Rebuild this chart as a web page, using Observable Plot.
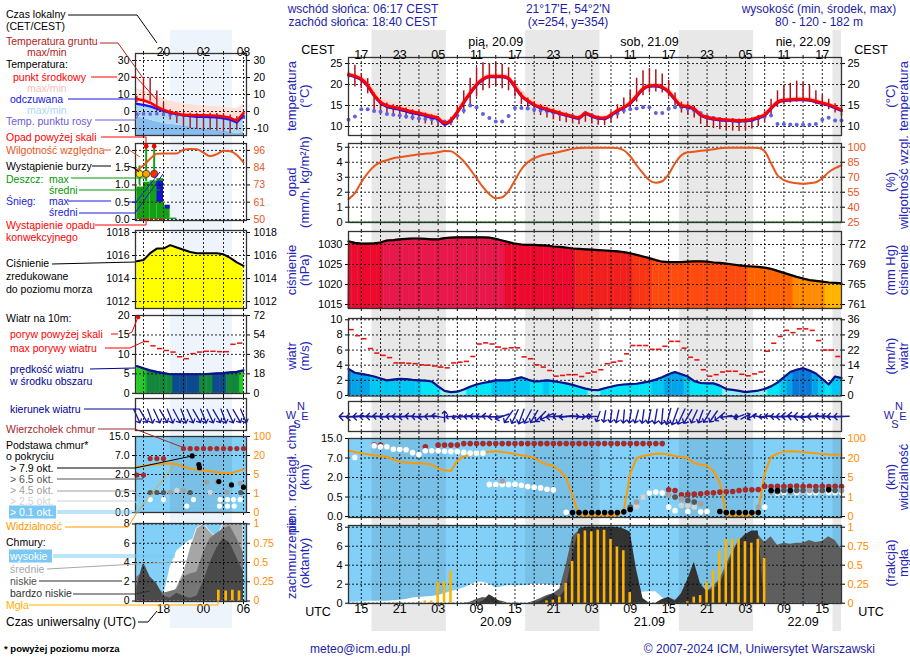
<!DOCTYPE html>
<html><head><meta charset="utf-8">
<script src="https://cdn.jsdelivr.net/npm/d3@7"></script>
<script src="https://cdn.jsdelivr.net/npm/@observablehq/plot@0.6"></script>
<style>
html,body{margin:0;padding:0;background:#fff;}
#root{position:relative;width:910px;height:660px;overflow:hidden;background:#fff;font-family:"Liberation Sans",Arial,sans-serif;}
#root svg{position:absolute;left:0;overflow:visible;}
</style></head><body><div id="root"></div>
<script>
// ================= DATA (main meteogram, hours since 19.09 00 UTC) =================
const hours = d3.range(13, 91);
const gridHours = d3.range(15, 90, 3);
const labelHours = d3.range(15, 90, 6);
const nightStart = [16.67, 40.67, 64.67, 88.67];
const nightEnd = [28.28, 52.28, 76.28, 90];
const dayNoon = [36, 60, 84];
const dayTop = ["pią, 20.09", "sob, 21.09", "nie, 22.09"];
const dayBottom = ["20.09", "21.09", "22.09"];

const temp = [22.4,22.0,21.3,19.8,17.5,15.8,15.0,14.6,14.3,13.9, 13.5,13.2,12.8,12.4,12.0,10.8,11.5,13.5,15.8,18.0,
  20.0,21.3,22.0,22.0,22.0,21.5,19.5,17.4,16.2,15.2, 14.6,14.1,13.7,13.2,12.8,12.4,12.1,13.2,12.6,12.1,
  12.0,12.8,13.8,14.6,15.6,17.3,19.0,19.7,19.8,19.4, 18.3,16.5,15.0,14.8,14.2,12.8,12.2,11.9,11.7,11.6,
  11.5,11.4,11.5,11.7,12.2,12.8,14.4,15.8,16.3,16.4, 16.5,16.5,16.4,16.0,15.6,15.2,14.6,13.9];
const tempHi = [22.8,22.6,22.0,21.0,19.0,17.2,16.4,15.8,15.4,15.0, 14.6,14.2,13.8,13.3,12.8,11.4,12.0,14.2,16.5,18.8,
  20.6,21.8,22.5,22.5,22.5,22.2,20.6,18.8,17.5,16.4, 15.8,15.2,14.6,14.0,13.5,13.0,12.6,13.6,13.1,12.6,
  12.5,13.3,14.3,15.2,16.3,18.0,19.6,20.2,20.3,20.0, 19.2,17.6,16.0,15.6,15.0,13.6,12.8,12.4,12.1,12.0,
  11.9,11.8,11.9,12.1,12.6,13.4,15.0,16.3,16.8,16.9, 17.0,17.0,16.9,16.6,16.2,15.8,15.2,14.5];
const tempLo = [22.0,21.5,20.8,19.2,17.0,15.4,14.6,14.2,13.9,13.5, 13.1,12.8,12.4,12.0,11.6,10.4,11.0,13.0,15.2,17.4,
  19.4,20.8,21.6,21.6,21.6,21.0,19.0,17.0,15.8,14.9, 14.3,13.8,13.4,12.9,12.5,12.1,11.8,12.8,12.3,11.8,
  11.7,12.4,13.4,14.2,15.2,16.8,18.6,19.3,19.4,19.0, 17.9,16.1,14.6,14.4,13.8,12.4,11.8,11.5,11.3,11.2,
  11.1,11.0,11.1,11.3,11.8,12.4,14.0,15.4,15.9,16.0, 16.1,16.1,16.0,15.6,15.2,14.8,14.2,13.5];
const felt = [22.2,21.8,21.1,19.6,17.3,15.6,14.7,14.3,14.0,13.6, 13.2,12.9,12.5,12.1,11.7,10.5,11.3,13.3,15.6,17.8,
  19.8,21.1,21.8,21.8,21.8,21.3,19.3,17.2,16.0,15.0, 14.4,13.9,13.5,13.0,12.6,12.2,11.9,13.0,12.4,11.9,
  11.8,12.6,13.6,14.4,15.4,17.1,18.8,19.5,19.6,19.2, 18.1,16.3,14.8,14.6,14.0,12.6,12.0,11.7,11.5,11.4,
  11.3,11.2,11.3,11.5,12.0,12.6,14.2,15.6,16.1,16.2, 16.3,16.3,16.2,15.8,15.4,15.0,14.4,13.7];
const groundMax = [23.0,24.6,22.6,21.4,18.0,16.2,15.6,15.2,14.8,14.4, 14.0,13.6,13.2,12.8,12.4,11.2,12.2,15.0,18.5,21.5,
  24.0,25.2,25.0,25.3,24.8,24.0,21.0,18.0,16.8,15.8, 15.2,14.6,14.2,13.7,13.2,12.8,12.5,13.6,13.0,12.5,
  12.4,13.5,15.2,16.8,18.5,21.5,23.3,23.8,23.5,22.5, 21.0,18.0,15.8,15.4,14.8,13.3,12.6,12.3,12.1,12.0,
  11.9,11.8,11.9,12.1,12.6,13.5,16.5,18.5,19.8,20.3, 20.8,20.5,19.8,18.5,17.5,16.5,15.4,14.6];
const groundMin = [21.5,19.4,19.0,17.8,13.6,12.8,12.6,12.4,12.0,11.8, 11.4,11.0,10.6,10.3,10.0,9.8,10.2,11.5,13.0,15.0,
  17.0,18.5,19.0,19.5,19.0,18.5,17.0,15.2,14.0,13.2, 12.6,12.0,11.6,11.2,10.9,10.6,10.4,11.0,10.6,10.3,
  10.2,10.8,11.8,13.0,14.2,15.8,17.3,18.0,18.2,18.0, 17.0,15.0,13.2,12.6,12.0,10.5,9.8,9.5,9.2,9.0,
  8.9,8.8,9.0,9.4,10.0,11.0,12.8,14.5,15.2,15.6, 15.8,15.9,15.8,15.2,14.6,14.0,13.2,12.4];
const dew = [11.6,12.4,14.1,14.1,13.7,13.5,13.0,12.8,12.6,12.4, 12.2,11.9,11.8,11.7,11.4,11.2,11.2,12.6,13.8,15.0,
  14.6,13.0,12.0,11.2,11.2,12.5,14.4,14.4,14.3,14.0, 13.8,13.6,13.3,13.0,12.8,12.5,12.1,13.2,12.7,12.1,
  11.9,12.5,13.1,13.8,14.1,14.3,14.6,14.6,13.2,13.2, 14.2,14.6,14.6,14.2,13.8,13.2,12.4,12.0,11.8,11.5,
  11.4,11.2,11.3,11.5,11.9,12.3,12.6,10.6,10.6,10.5, 10.4,10.4,10.4,10.6,11.6,12.1,11.4,11.4];
const rh = [48,54,65,74,81,85,87,89,90,91, 92,93,93.5,94,95,96.3,96,92,86,78,
  69,60,53,49,50,56,67,78,85,89, 91.5,93,94,95.5,97,98.5,99.3,99.5,99.5,99.5,
  99.5,99.5,99.3,97,91,82,74,67,64.5,66, 73,84,92,95,95.5,96.5,97,98,99,99.5,
  99.5,99.5,99.5,99.5,99.3,96,84,72,67,65, 64,63.5,64,65,69,75,79,82];
const pres = [1030.8,1030.4,1030.2,1030.2,1030.3,1030.5,1031.0,1031.1,1031.3,1031.4,
  1031.5,1031.5,1031.4,1031.3,1031.3,1031.6,1031.7,1031.8,1031.8,1031.8,
  1031.8,1031.8,1031.7,1031.4,1031.0,1030.6,1030.2,1030.0,1029.9,1029.9,
  1029.8,1029.7,1029.5,1029.4,1029.2,1029.0,1028.9,1028.8,1028.7,1028.6,
  1028.5,1028.4,1028.3,1028.1,1027.8,1027.4,1027.0,1026.6,1026.1,1025.7,
  1025.6,1025.6,1025.6,1025.7,1025.8,1025.8,1025.7,1025.5,1025.4,1025.2,
  1025.0,1024.8,1024.6,1024.5,1024.4,1024.2,1023.9,1023.4,1022.9,1022.4,
  1021.9,1021.5,1021.1,1020.9,1020.7,1020.5,1020.4,1020.3];
const windMean = [3.5,3.0,2.85,2.7,2.5,2.25,2.0,2.1,2.2,2.15, 2.05,2.0,1.95,1.85,1.2,0.6,0.45,0.5,0.8,1.15,
  1.45,1.65,1.8,2.0,2.0,2.0,2.2,2.4,2.1,1.85, 1.9,2.0,1.9,1.75,1.6,1.4,1.15,0.9,0.75,0.7,
  0.95,1.15,1.35,1.45,1.5,1.55,1.7,1.85,2.1,2.4, 2.8,3.1,2.8,2.5,1.9,1.65,1.6,1.6,1.3,0.85,
  0.75,0.6,0.45,0.55,0.65,0.85,1.2,1.7,2.4,3.1, 3.4,3.6,3.3,2.9,2.2,1.45,2.5,2.3];
const gustHours = d3.range(13, 90);
const gust = [8.7,7.9,7.5,6.2,5.6,5.3,5.0,4.3,4.3,4.25, 4.2,4.05,4.0,3.9,3.75,3.65,4.3,4.4,4.5,5.15,
  6.8,6.95,6.8,6.4,6.2,6.3,6.3,5.1,4.85,4.05, 3.75,3.3,2.55,2.65,2.75,2.75,2.5,2.95,3.1,3.4,
  4.2,4.4,4.55,5.5,6.6,6.6,6.6,6.1,6.1,6.5, 7.15,7.15,6.25,5.05,4.7,3.4,2.55,2.75,3.1,3.2,
  3.2,2.8,2.6,2.85,3.1,5.85,6.9,7.8,8.6,8.3, 8.8,8.8,8.6,7.25,6.0,6.0,5.15];
const windDir = [270,265,268,272,270,275,268,272,270,268, 275,270,265,270,280,0,265,255,262,268,
  272,270,275,265,250,215,205,200,208,210, 225,245,265,270,262,90,95,85,270,200,
  190,188,192,185,190,195,188,192,190,185, 195,200,205,210,205,200,210,215,230,260,
  90,250,60,240,280,265,275,270,268,272, 275,270,265,268,272,275,270,268];
const vis = [50,45,40,35,31,28,24,19,17,16.5, 16,16,15.5,15,12,10.5,10,18,27,33,
  38,43,46,48,45,41,36,31,27,21, 17,15,14,10,5,1.2,0.05,0.05,0.05,0.05,
  0.05,0.05,0.05,0.3,8,20,28,33,37,38, 34,28,24,20,16,15,14,10,4,0.05,
  0.05,0.05,0.05,0.05,0.3,8,25,38,46,48, 47,45,42,39,36,34,33,33];
const topH = [17,18,25,27,28,29,30, 31,32,33,34,35,36,37,38,39,40,41,42,43,44,45,46,47,48,49,50,51,52,53,54,55,56,57,58,59,60,61,62,
  63,64,65,66,67,68,69,70,71,72,73,74,75,76,77, 78,79,80,81,82,83,84,85,86,87,88,89,90];
const topKm = [12.3,12.3,11.6,12.3,12.3,12.3,12.3,
  12.9,12.9,12.9,12.9,12.9,12.9,12.9,12.9,12.9,12.9,12.9,12.9,12.9,12.9,12.9,12.9,12.9,12.9,12.9,12.9,12.9,12.9,12.9,12.9,12.9,12.9,12.9,12.9,12.9,12.9,12.9,12.9,
  1.06,1.0,0.67,0.7,0.72,0.75,0.8,0.82,0.88,0.9,0.92,1.0,1.05,1.06,1.08,
  1.32,1.3,1.33,1.3,1.32,1.35,1.3,1.32,1.3,1.33,1.3,1.32,1.3];
const baseH = [14,17,18,19,20,21,22,23,24,25,26,27,28,29,30,31,32,33,34,
  35,36,37,37,38,39,40,41,42,43,44,45,
  47,48,49,50,51,52,53,54,55,56,
  57,57,58,58,59,60,61,62,
  63,63,64,64,65,65,66,66,66,67,67,68,68,69,71,72,73,74,75,76,77,77,78,
  79,79,80,80,80,81,81,82,82,83,83,84,84,85,85,86,86,87,87,88,88,89,89,90,90];
const baseKm = [7.2,12.0,11.6,11.6,10.6,10.6,10.4,9.2,8.4,10.0,10.0,10.0,9.8,9.7,9.6,9.3,9.0,9.0,9.0,
  1.47,1.45,1.73,1.45,1.45,1.47,1.4,1.3,1.25,1.2,1.1,1.05,
  0.11,0.1,0.1,0.1,0.1,0.1,0.1,0.1,0.1,0.12,
  0.24,0.18,0.37,0.25,0.5,0.8,0.88,0.8,
  0.66,0.24,0.5,0.15,0.45,0.28,0.41,0.28,0.13,0.37,0.24,0.33,0.12,0.13,0.13,0.1,0.1,0.1,0.1,0.1,0.24,0.1,0.24,
  1.0,0.88,1.0,0.9,0.8,1.0,0.85,1.0,0.88,1.0,0.85,1.0,0.88,1.0,0.85,1.0,0.85,1.0,0.88,1.05,0.85,1.0,0.85,1.0,0.85];
const baseCat = [1,1,1,1,1,1,1,1,1,1,1,1,1,1,1,1,1,1,1,
  1,1,3,1,1,1,1,1,1,1,1,1,
  1,5,5,5,5,5,5,5,5,5,
  4,5,3,2,2,1,1,1,
  3,1,4,1,3,2,4,2,1,4,2,3,1,1,5,5,5,5,5,5,3,5,1,
  5,3,5,4,1,4,1,5,3,4,1,4,2,3,1,4,1,4,2,5,1,4,1,3,1];
const cvMed = [0.1,0.1,0.15,0.2,0.2,0.2,0.2,0.25,0.3,0.4, 0.55,0.6,0.65,0.7,0.8,1.0,1.2,1.4,1.6,1.9,
  2.2,2.2,2.0,1.6,1.7,1.9,1.85,1.85,1.9,2.0, 2.0,1.95,1.9,1.9,1.9,1.9,1.9,1.9,1.9,1.9,
  1.9,1.9,1.9,1.5,1.2,1.15,1.15,1.2,1.2,0.6, 0.1,0.3,0.3,0.2,0.1,0,0,0,0,0,
  0,0,0,0,0,0,0,0,0,0, 0,0,0,0,0,0,0,0];
const cvLow = [0,0,0,0,0,0,0,0,0,0, 0,0,0,0,0,0,0,0,0,0.1,
  0.4,0.6,0.5,0.3,0.2,0,0,0,0,0.2, 0.5,0.8,1.0,1.5,4.0,7.0,7.6,7.5,7.4,7.5,
  7.6,7.5,7.4,7.0,6.0,2.5,0.3,0,0,0.3, 0.6,0.3,0.6,1.5,3.0,1.8,1.2,1.8,2.5,4.0,
  5.5,6.6,7.2,7.5,7.2,6.4,7.0,6.1,6.3,6.2, 6.3,6.3,6.6,6.4,6.5,7.0,6.6,5.7];
const cvVLow = [0,0,0,0,0,0,0,0,0,0, 0,0,0,0,0,0,0,0,0,0,
  0,0.2,0.9,0.5,0,0,0,0,0,0, 0.2,0.6,1.0,0.6,1.5,5.0,7.8,8.0,8.0,8.0,
  8.0,8.0,8.0,7.8,7.5,3.5,0.5,0,0,0.4, 0.6,0.2,1.0,2.5,4.3,2.0,1.2,1.5,2.0,3.5,
  5.2,6.5,7.2,7.6,7.6,0,0,0,0,0, 0,0,0,0,0,0,0,0];
const fog = [0,0,0,0,0,0,0,0,0,0, 0,0,0.03,0.03,0.28,0.28,0.42,0,0,0,
  0,0,0,0,0,0,0,0,0,0, 0,0.03,0.04,0.08,0.26,0.55,0.91,0.95,0.94,0.96,
  0.96,0.84,0.74,0.69,0.14,0,0,0,0,0, 0,0,0,0.02,0.08,0.1,0.28,0.43,0.68,0.84,
  0.84,0.84,0.81,0.79,0.84,0.59,0,0,0,0, 0,0,0,0,0,0,0,0];

// tick labels
const tTicks = [10,15,20,25];
const pTicks = [0,1,2,3,4,5], rhLabels = ["25","40","55","70","85","100"];
const prTicks = [1015,1020,1025,1030], mmHgLabels = ["761","765","769","772"];
const wTicks = [0,2,4,6,8,10], kmhLabels = ["0","7","14","22","29","36"];
const cTicks = [0,1,2,3,4], kmLabels = ["0.0","0.5","2.0","7.0","15.0"], visLabels = ["0","1","5","20","100"];
const ovTicks = [0,2,4,6,8], fogLabels = ["0","0.25","0.5","0.75","1"];

// ================= DATA (legend mini-meteogram) =================
const miniHours = d3.range(14, 31);
const miniGrid = [15,18,21,24,27,30];
const miniLabelHours = [18,24,30];
const miniNightStart = [19.05], miniNightEnd = [28.35];
const miniTemp = [7.4,6.6,5.2,2.9,1.0,-0.4,-1.2,-2.0,-2.1,-2.2,-2.2,-2.3,-2.5,-3.0,-3.7,-5.5,-1.0];
const miniFelt = [4.5,3.9,3.0,1.6,0.3,-0.9,-1.6,-2.3,-2.8,-3.2,-3.2,-3.3,-3.5,-4.0,-4.8,-6.5,-2.5];
const miniTempHi = [13.5,12.0,10.5,9.0,7.5,6.2,5.2,4.6,4.0,3.6,3.3,3.0,2.8,2.5,2.0,1.5,4.5];
const miniTempLo = [6.0,5.2,3.8,1.6,-0.2,-1.4,-2.2,-3.0,-3.1,-3.2,-3.2,-3.3,-3.5,-4.0,-4.7,-6.5,-2.0];
const miniFeltLo = [-3,-4,-5,-6,-7,-7.5,-8,-8.5,-9,-9.5,-10,-10.5,-11,-11.5,-12,-13,-12];
const miniGMax = [9,20,19.5,12,5,1,0,-0.5,-1,-1,-1,-1,-1.2,-1.5,-2,-3,0];
const miniGMin = [5,4,6,0,-3,-5,-7,-9,-10,-10.5,-11,-11,-11.5,-12,-13,-11,-4];
const miniDew = [-1.5,-1.4,-1.5,-1.3,-1.6,-1.8,-2.0,-2.2,-2.4,-2.5,-2.7,-3.0,-3.2,-3.5,-4.2,-4.8,-3.5];
const miniRH = [83,86,90.4,93.8,94,94,94,96.5,97,96.7,94.5,92.2,93.5,95.8,95.5,93,88];
const miniRainX1 = [14,15,16,17,18,19], miniRainX2 = [15,16,17,18,19,20];
const miniRain = [0.94,1.08,1.12,1.18,0.41,0.04];
const miniRainMaxH = [14.4,15.4,16.6], miniRainMaxLo = [1.0,1.1,1.2], miniRainMaxHi = [1.55,2.15,2.15];
const miniSnowX1 = [17,18.3], miniSnowX2 = [18,19], miniSnowLo = [0.5,0.3], miniSnowHi = [1.1,0.41];
const miniStormH = [14.4,15.4,16.6], miniStormLevel = [1.32,1.32,1.32], miniStormClass = [1,2,3];
const miniAboveH = [15.4,16.6], miniAboveV = [2.12,2.12];
const miniConvH = [14.5,18];
const miniPres = [1015.5,1015.6,1016.2,1016.6,1016.6,1016.9,1016.7,1016.5,1016.3,1016.2,1016.2,1016.2,1016.2,1016.1,1015.8,1015.4,1015.1];
const miniWind = [7.0,6.4,5.9,5.5,5.2,4.9,4.9,4.9,4.9,4.9,4.9,5.0,5.1,5.2,5.4,5.5,5.9];
const miniWindClass = [1,1,2,2,2,2,3,3,3,3,2,2,3,3,2,2,1];
const miniGustH = d3.range(15, 30);
const miniGust = [13.3,12.2,11.5,11.0,10.6,9.4,8.9,10.2,10.6,10.8,10.8,10.7,10.7,12.6,12.9];
const miniGustAboveH = [14.2], miniGustAboveV = [19.6];
const miniDir = [155,150,160,155,150,158,152,160,155,150,158,155,150,160,155,150,158];
const miniVis = [11,11.8,12.5,13,13.5,13.6,13.2,11,9.5,9,8.2,7.5,6.7,6.2,5.9,7.5,9];
const miniTopH = [14,15,16,17,18,21,22,23,24,25,26,27,28,29,30];
const miniTopKm = [1.96,1.96,6.2,6.2,6.2,9.9,9.9,9.9,9.9,9.9,9.9,9.9,9.9,9.9,9.9];
const miniBaseH = [16,17,18,19,20,21,22,16,18,21.5,22.5,22.3,23.3,23.4,24.5,25,26,26.3,26.5,27.5,27.6,28.2,28.5,29.5,29.5,29.6,30,26.4,27.6,28.6];
const miniBaseKm = [0.58,0.58,0.58,0.6,0.75,0.75,0.58,0.34,0.34,0.17,0.34,6.9,4.6,3.8,1.4,0.6,1.44,1.44,0.34,0.6,0.34,1.18,0.34,1.3,0.34,0.58,1.0,0.17,0.17,0.17];
const miniBaseCat = [4,4,4,3,2,3,4,1,1,1,1,5,5,5,3,2,3,5,1,3,1,5,1,3,1,4,5,1,1,1];
const miniCvWhite = [0,0,0,0,0.5,3.5,5.2,5.8,6.3,6.5,0,0,0,0,0,0,0];
const miniCvMed = [0,0,0,0,0,0,1.5,3.0,5.5,7.5,8,7.2,6.5,8,8,8,8];
const miniCvLow = [2.5,3.0,2.0,1.5,0.8,1.0,1.2,2.5,2.8,3.0,5.0,6.5,7.0,7.5,7.8,6.5,5.0];
const miniCvVLow = [1.5,4.0,2.5,1.8,0.5,0.3,0.8,0.5,0.3,0.5,2.0,4.0,5.5,6.5,6.0,4.5,3.0];
const miniFogH = [26.3,27.4,28.4,29.4], miniFog = [0.14,0.13,0.14,0.13];
const mTTicks = [-10,0,10,20,30];
const mPTicks = [0,0.5,1,1.5,2], mPLabels = ["0.0","0.5","1.0","1.5","2.0"], mRhLabels = ["50","61","73","84","96"];
const mPrTicks = [1012,1014,1016,1018];
const mWTicks = [0,5,10,15,20], mKmhLabels = ["0","18","36","54","72"];

// ================= STYLE / HELPERS =================
const FONT = '"Liberation Sans", Arial, sans-serif';
const NAVY = "#1e1ea8", TITLE = "#2626b8", ORANGE = "#ff8c00", RHC = "#e8561c";
const root = document.getElementById("root");
const baseStyle = {background: "transparent", overflow: "visible", fontFamily: FONT, fontSize: "11px", color: "#000"};
const GRID = {stroke: "#000", strokeDasharray: "2,2", strokeWidth: 1, strokeOpacity: 0.85};
const MAIN_X = {domain: [13, 90], ml: 348, mr: 69, width: 910, grid: gridHours};
const MINI_X = {domain: [13.8, 30.45], ml: 135, mr: 34, width: 280, grid: miniGrid};
const BASE_COLORS = {1: "#ffffff", 2: "#d4d4d4", 3: "#a2a2a2", 4: "#575757", 5: "#000000"};
const MINI_WIND_COLORS = {1: "#22cc22", 2: "#12883a", 3: "#0e4a8e"};
const STORM_COLORS = {1: "#ffe000", 2: "#ffa000", 3: "#ff3000"};
const kmIdx = d3.scaleLinear().domain([0, 0.5, 2, 7, 15]).range([0, 1, 2, 3, 4]);
const visIdx = d3.scaleLinear().domain([0, 1, 5, 20, 100]).range([0, 1, 2, 3, 4]);
const pad2 = h => String(((h % 24) + 24) % 24).padStart(2, "0");

function windColor(v) { return v >= 3.3 ? "#0a78d8" : v >= 2.7 ? "#00a4e8" : v >= 2.0 ? "#00c6f2" : v >= 0.9 ? "#00e6f8" : "#8cf0f4"; }
function presColor(p) { return p < 1020.6 ? "#ffb400" : p < 1022 ? "#ff8c00" : p < 1024.6 ? "#ff6400" : p < 1026.5 ? "#ff4a10" : p < 1027.5 ? "#fa3514" : p < 1029 ? "#f0201e" : p < 1030.9 ? "#ec0a2e" : "#e8184c"; }

// split a series into per-sample segments so each can carry its own fill
function segs(xs, ys, cols) {
  const out = [];
  for (let i = 0; i < xs.length; i++) {
    const xa = i > 0 ? (xs[i-1] + xs[i]) / 2 : xs[i], ya = i > 0 ? (ys[i-1] + ys[i]) / 2 : ys[i];
    const xb = i < xs.length - 1 ? (xs[i] + xs[i+1]) / 2 : xs[i], yb = i < xs.length - 1 ? (ys[i] + ys[i+1]) / 2 : ys[i];
    out.push({x: xa, y: ya, z: i, c: cols[i]}, {x: xs[i], y: ys[i], z: i, c: cols[i]}, {x: xb, y: yb, z: i, c: cols[i]});
  }
  return out;
}

function put(svg, top) { svg.style.top = top + "px"; svg.style.left = "0px"; root.appendChild(svg); }

function panel(o) {
  const pad = 14;
  const X = o.mini ? MINI_X : MAIN_X;
  const marks = [];
  if (o.fill) marks.push(Plot.frame({fill: o.fill, stroke: null}));
  if (o.shade) marks.push(Plot.rect(o.shade[0], {x1: d => d, x2: (d, i) => o.shade[1][i], fill: "#000", fillOpacity: 0.075}));
  marks.push(...(o.under || []));
  if (o.ticks && o.gridY !== false) marks.push(Plot.ruleY(o.ticks, GRID));
  marks.push(Plot.ruleX(X.grid, GRID));
  marks.push(...(o.over || []));
  marks.push(Plot.frame({stroke: "#333", strokeWidth: 1.3}));
  const fs = o.mini ? 10.5 : 11;
  if (o.ticks) {
    marks.push(Plot.text(o.ticks, {y: d => d, text: (d, i) => o.left ? o.left[i] : String(d), frameAnchor: "left", textAnchor: "end", dx: -6, fill: o.leftColor || "#000", fontSize: fs}));
    marks.push(Plot.text(o.ticks, {y: d => d, text: (d, i) => o.right ? o.right[i] : String(d), frameAnchor: "right", textAnchor: "start", dx: o.mini ? 7 : 6, fill: o.rightColor || "#000", fontSize: fs}));
  }
  marks.push(...(o.labels || []));
  const svg = Plot.plot({
    width: X.width, height: o.bottom - o.top + 2 * pad,
    marginLeft: X.ml, marginRight: X.mr, marginTop: pad, marginBottom: pad,
    x: {domain: X.domain, axis: "both", ticks: X.grid, tickSize: 3, tickFormat: () => "", label: null},
    y: {domain: o.domain, axis: o.ticks ? "both" : null, ticks: o.ticks || [], tickSize: 3, tickFormat: () => "", label: null},
    color: {type: "identity"},
    length: o.lengthScale,
    style: baseStyle,
    marks
  });
  put(svg, o.top - pad);
}

// ================= BACKGROUND (night bands) =================
put(Plot.plot({width: 910, height: 660, marginLeft: 348, marginRight: 69, marginTop: 30, marginBottom: 29,
  x: {domain: MAIN_X.domain, axis: null}, y: {domain: [0, 1], axis: null}, style: baseStyle,
  marks: [Plot.rect(nightStart, {x1: d => d, x2: (d, i) => nightEnd[i], fill: "#e8e8e8"})]}), 0);
put(Plot.plot({width: 280, height: 660, marginLeft: 135, marginRight: 34, marginTop: 30, marginBottom: 32,
  x: {domain: MINI_X.domain, axis: null}, y: {domain: [0, 1], axis: null}, style: baseStyle,
  marks: [Plot.rect(miniNightStart, {x1: d => d, x2: (d, i) => miniNightEnd[i], fill: "#eef4fc"})]}), 0);

// ================= MAIN PANELS =================
const H = h => h;
panel({top: 57, bottom: 135, domain: [7.85, 26.44], ticks: tTicks,
  under: [Plot.areaY(hours, {x: H, y1: (h, i) => tempLo[i], y2: (h, i) => tempHi[i], fill: "#ffd8d0", curve: "monotone-x"})],
  over: [
    Plot.ruleX(hours, {x: H, y1: (h, i) => groundMin[i], y2: (h, i) => groundMax[i], stroke: "#b0141e", strokeWidth: 1.5}),
    Plot.dot(hours, {x: H, y: (h, i) => dew[i], r: 2, fill: "#6262dc"}),
    Plot.line(hours, {x: H, y: (h, i) => felt[i], stroke: "#1414ff", strokeWidth: 2.5, curve: "monotone-x"}),
    Plot.line(hours, {x: H, y: (h, i) => temp[i], stroke: "#ff0000", strokeWidth: 3, curve: "monotone-x"})
  ],
  labels: [
    Plot.text(labelHours, {x: H, text: h => pad2(h + 2), frameAnchor: "top", dy: -7, fontSize: 12.5}),
    Plot.text(dayNoon, {x: H, text: (d, i) => dayTop[i], frameAnchor: "top", dy: -20, fontSize: 12.5})
  ]});
panel({top: 143, bottom: 222, domain: [-0.02, 5.25], ticks: pTicks, right: rhLabels, rightColor: RHC,
  over: [
    Plot.ruleY([0], {stroke: "#00a000", strokeWidth: 1.5}),
    Plot.line(hours, {x: H, y: (h, i) => (rh[i] - 25) / 15, stroke: RHC, strokeWidth: 2, curve: "monotone-x"})
  ]});
panel({top: 231, bottom: 308, domain: [1014, 1033.25], ticks: prTicks, right: mmHgLabels,
  under: [Plot.areaY(segs(hours, pres, pres.map(presColor)), {x: "x", y1: 1014, y2: "y", z: "z", fill: "c", stroke: "c", strokeWidth: 0.6})],
  over: [Plot.line(hours, {x: H, y: (h, i) => pres[i], stroke: "#000", strokeWidth: 2.2})]});
panel({top: 318, bottom: 395.5, domain: [-0.07, 10.17], ticks: wTicks, right: kmhLabels,
  under: [Plot.areaY(segs(hours, windMean, windMean.map(windColor)), {x: "x", y1: 0, y2: "y", z: "z", fill: "c", stroke: "c", strokeWidth: 0.6})],
  over: [
    Plot.line(hours, {x: H, y: (h, i) => windMean[i], stroke: "#10108a", strokeWidth: 2.2}),
    Plot.ruleY(gustHours, {y: (h, i) => gust[i], x1: h => h + 0.1, x2: h => h + 0.9, stroke: "#ee1111", strokeWidth: 1.6})
  ]});
panel({top: 401, bottom: 431, domain: [0, 1], lengthScale: {domain: [0, 4], range: [9, 20]},
  over: [Plot.vector(hours, {x: H, y: 0.5, rotate: (h, i) => windDir[i], length: (h, i) => windMean[i], anchor: "middle", stroke: "#1a1aa0", strokeWidth: 1.4})]});
const baseOrder = d3.sort(d3.range(baseH.length), i => baseCat[i]);
panel({top: 438, bottom: 517, domain: [-0.05, 4.0], ticks: cTicks, left: kmLabels, right: visLabels, rightColor: ORANGE,
  fill: "#82d0f8", shade: [nightStart, nightEnd],
  over: [
    Plot.line(hours, {x: H, y: (h, i) => visIdx(vis[i]), stroke: "#ff9900", strokeWidth: 2}),
    Plot.dot(topH, {x: H, y: (h, i) => kmIdx(topKm[i]), r: 2.8, fill: "#a82a2a"}),
    Plot.dot(baseOrder, {x: i => baseH[i], y: i => kmIdx(baseKm[i]), r: 2.8, fill: i => BASE_COLORS[baseCat[i]]})
  ]});
panel({top: 525, bottom: 603, domain: [-0.03, 8.18], ticks: ovTicks, right: fogLabels, rightColor: ORANGE,
  fill: "#82d0f8", shade: [nightStart, nightEnd],
  under: [
    Plot.areaY(hours, {x: H, y1: 0, y2: (h, i) => cvMed[i], fill: "#ffffff"}),
    Plot.areaY(hours, {x: H, y1: 0, y2: (h, i) => cvLow[i], fill: "#5e5e5e"}),
    Plot.areaY(hours, {x: H, y1: 0, y2: (h, i) => cvVLow[i], fill: "#333333"})
  ],
  over: [
    Plot.rect(hours.filter((h, i) => fog[i] > 0), {x1: h => h - 0.2, x2: h => h + 0.2, y1: 0, y2: h => fog[h - 13] * 8, fill: "#ffb400"})
  ],
  labels: [
    Plot.text(labelHours, {x: H, text: h => pad2(h), frameAnchor: "bottom", dy: 9, fontSize: 12.5}),
    Plot.text(dayNoon, {x: H, text: (d, i) => dayBottom[i], frameAnchor: "bottom", dy: 22, fontSize: 12.5})
  ]});

// ================= LEGEND MINI PANELS =================
const MH = h => h;
panel({mini: true, top: 53, bottom: 135, domain: [-14.1, 34.1], ticks: mTTicks,
  under: [
    Plot.areaY(miniHours, {x: MH, y1: -14.1, y2: (h, i) => miniFeltLo[i], fill: "#86bdee"}),
    Plot.areaY(miniHours, {x: MH, y1: (h, i) => miniFeltLo[i], y2: (h, i) => miniFelt[i], fill: "#acd8f6"}),
    Plot.areaY(miniHours, {x: MH, y1: (h, i) => miniTempLo[i], y2: (h, i) => miniTempHi[i], fill: "#fde0d8"})
  ],
  over: [
    Plot.ruleX(miniHours, {x: MH, y1: (h, i) => miniGMin[i], y2: (h, i) => miniGMax[i], stroke: "#b0141e", strokeWidth: 1.4}),
    Plot.dot(miniHours, {x: MH, y: (h, i) => miniDew[i], r: 1.8, symbol: "square", fill: "#6262dc"}),
    Plot.line(miniHours, {x: MH, y: (h, i) => miniFelt[i], stroke: "#1414ff", strokeWidth: 2.2}),
    Plot.line(miniHours, {x: MH, y: (h, i) => miniTemp[i], stroke: "#ff0000", strokeWidth: 2.6})
  ],
  labels: [Plot.text(miniLabelHours, {x: MH, text: h => pad2(h + 2), frameAnchor: "top", dy: -6, fontSize: 12})]});
panel({mini: true, top: 143, bottom: 220, domain: [-0.03, 2.2], ticks: mPTicks, left: mPLabels, right: mRhLabels, rightColor: RHC,
  under: [
    Plot.rect(miniRain, {x1: (d, i) => miniRainX1[i], x2: (d, i) => miniRainX2[i], y1: 0, y2: d => d, fill: "#14a014"}),
    Plot.rect(miniSnowX1, {x1: d => d, x2: (d, i) => miniSnowX2[i], y1: (d, i) => miniSnowLo[i], y2: (d, i) => miniSnowHi[i], fill: "#1414c8"})
  ],
  over: [
    Plot.ruleX(miniRainMaxH, {x: d => d, y1: (d, i) => miniRainMaxLo[i], y2: (d, i) => miniRainMaxHi[i], stroke: "#14a014", strokeWidth: 2}),
    Plot.dot(miniAboveH, {x: d => d, y: (d, i) => miniAboveV[i], r: 2.4, fill: "#ff0000"}),
    Plot.line(miniHours, {x: MH, y: (h, i) => (miniRH[i] - 50) / 23, stroke: RHC, strokeWidth: 2, curve: "monotone-x"}),
    Plot.dot(miniStormH, {x: d => d, y: (d, i) => miniStormLevel[i], r: 3.6, fill: (d, i) => STORM_COLORS[miniStormClass[i]], stroke: "#333", strokeWidth: 0.8}),
    Plot.ruleY([0], {x1: miniConvH[0], x2: miniConvH[1], stroke: "#ff0000", strokeWidth: 2, strokeDasharray: "3,2"})
  ]});
panel({mini: true, top: 230, bottom: 308, domain: [1011.4, 1018.17], ticks: mPrTicks,
  under: [Plot.areaY(miniHours, {x: MH, y1: 1011.4, y2: (h, i) => miniPres[i], fill: "#ffff00"})],
  over: [Plot.line(miniHours, {x: MH, y: (h, i) => miniPres[i], stroke: "#000", strokeWidth: 2})]});
panel({mini: true, top: 315, bottom: 393, domain: [-0.05, 20], ticks: mWTicks, right: mKmhLabels,
  under: [Plot.areaY(segs(miniHours, miniWind, miniWindClass.map(c => MINI_WIND_COLORS[c])), {x: "x", y1: 0, y2: "y", z: "z", fill: "c", stroke: "c", strokeWidth: 0.6})],
  over: [
    Plot.line(miniHours, {x: MH, y: (h, i) => miniWind[i], stroke: "#10108a", strokeWidth: 2.2}),
    Plot.ruleY(miniGustH, {y: (h, i) => miniGust[i], x1: h => h + 0.1, x2: h => h + 0.9, stroke: "#ee1111", strokeWidth: 1.5}),
    Plot.dot(miniGustAboveH, {x: d => d, y: (d, i) => miniGustAboveV[i], r: 2.2, fill: "#ff0000"})
  ]});
panel({mini: true, top: 398, bottom: 430, domain: [0, 1],
  over: [Plot.vector(miniHours, {x: MH, y: 0.45, rotate: (h, i) => miniDir[i], length: 15, anchor: "middle", stroke: "#1a1aa0", strokeWidth: 1.3})]});
const miniBaseOrder = d3.sort(d3.range(miniBaseH.length), i => miniBaseCat[i]);
panel({mini: true, top: 436, bottom: 512, domain: [0, 4], ticks: cTicks, left: kmLabels, right: visLabels, rightColor: ORANGE,
  fill: "#82d0f8", shade: [miniNightStart, miniNightEnd],
  over: [
    Plot.line(miniHours, {x: MH, y: (h, i) => visIdx(miniVis[i]), stroke: "#ff9900", strokeWidth: 2}),
    Plot.dot(miniTopH, {x: MH, y: (h, i) => kmIdx(miniTopKm[i]), r: 2.6, fill: "#a82a2a"}),
    Plot.dot(miniBaseOrder, {x: i => miniBaseH[i], y: i => kmIdx(miniBaseKm[i]), r: 2.6, fill: i => BASE_COLORS[miniBaseCat[i]]})
  ]});
panel({mini: true, top: 523, bottom: 601, domain: [-0.05, 8.05], ticks: ovTicks, right: fogLabels, rightColor: ORANGE,
  fill: "#82d0f8",
  under: [
    Plot.areaY(miniHours, {x: MH, y1: 0, y2: (h, i) => miniCvWhite[i], fill: "#ffffff"}),
    Plot.areaY(miniHours, {x: MH, y1: 0, y2: (h, i) => miniCvMed[i], fill: "#a6a6a6", stroke: "#fff", strokeWidth: 0.8}),
    Plot.areaY(miniHours, {x: MH, y1: 0, y2: (h, i) => miniCvLow[i], fill: "#767676"}),
    Plot.areaY(miniHours, {x: MH, y1: 0, y2: (h, i) => miniCvVLow[i], fill: "#4a4a4a"})
  ],
  over: [Plot.rect(miniFogH, {x1: h => h - 0.2, x2: h => h + 0.2, y1: 0, y2: (h, i) => miniFog[i] * 8, fill: "#ffb400"})],
  labels: [Plot.text(miniLabelHours, {x: MH, text: h => pad2(h), frameAnchor: "bottom", dy: 11, fontSize: 12})]});

// ================= TEXT / ANNOTATION OVERLAY =================
const ov = d3.create("svg").attr("width", 910).attr("height", 660).style("top", "0px").style("font-family", FONT);
function T(x, y, s, o = {}) {
  if (o.bg) ov.append("rect").attr("x", x - 1).attr("y", y - 6.5).attr("width", o.bgw).attr("height", 13).attr("fill", o.bg);
  ov.append("text").attr("x", x).attr("y", y).attr("dominant-baseline", "central")
    .attr("text-anchor", o.a || "start").attr("fill", o.c || "#000").attr("font-size", o.s || 10.5)
    .attr("font-weight", o.w || null).attr("transform", o.r ? `rotate(${o.r},${x},${y})` : null).text(s);
}
function L(pts, c, w = 1) { ov.append("path").attr("d", d3.line()(pts)).attr("fill", "none").attr("stroke", c).attr("stroke-width", w); }

// header
T(363, 9, "wschód słońca: 06:17 CEST", {a: "middle", c: NAVY, s: 12});
T(363, 22, "zachód słońca: 18:40 CEST", {a: "middle", c: NAVY, s: 12});
T(568, 9, "21°17'E, 54°2'N", {a: "middle", c: NAVY, s: 12});
T(568, 22, "(x=254,  y=354)", {a: "middle", c: NAVY, s: 12});
T(819, 9, "wysokość (min, środek, max)", {a: "middle", c: NAVY, s: 12});
T(819, 22, "80 - 120 - 182 m", {a: "middle", c: NAVY, s: 12});
T(318, 50, "CEST", {a: "middle", s: 12.5}); T(871, 50, "CEST", {a: "middle", s: 12.5});
T(318, 612, "UTC", {a: "middle", s: 12.5}); T(871, 612, "UTC", {a: "middle", s: 12.5});
// axis titles
const titles = [
  [96, "temperatura", "(°C)", "(°C)", "temperatura"],
  [182, "opad", "(mm/h, kg/m²/h)", "(%)", "wilgotność wzgl."],
  [270, "ciśnienie", "(hPa)", "(mm Hg)", "ciśnienie"],
  [356, "wiatr", "(m/s)", "(km/h)", "wiatr"],
  [477, null, "(km)", "(km)", "widzialność"],
  [563, null, "(oktanty)", "(frakcja)", "mgła"]
];
for (const [y, l1, l2, r1, r2] of titles) {
  if (l1) T(291, y, l1, {a: "middle", r: -90, c: TITLE, s: 13});
  T(304, y, l2, {a: "middle", r: -90, c: TITLE, s: 13});
  T(890, y, r1, {a: "middle", r: -90, c: TITLE, s: 13});
  T(903, y, r2, {a: "middle", r: -90, c: TITLE, s: 13});
}
T(291, 533, "pion. rozciągł. chm.", {a: "start", r: -90, c: TITLE, s: 13});
T(291, 599, "zachmurzenie", {a: "start", r: -90, c: TITLE, s: 13});
// compass glyphs
for (const cx of [296, 894]) {
  T(cx + 5, 406, "N", {a: "middle", c: NAVY, s: 11});
  T(cx - 5, 415, "W", {a: "middle", c: NAVY, s: 11});
  T(cx + 9, 416, "E", {a: "middle", c: NAVY, s: 11});
  T(cx + 1, 424, "S", {a: "middle", c: NAVY, s: 11});
}
// footer
T(310, 649, "meteo@icm.edu.pl", {c: NAVY, s: 12});
T(875, 649, "© 2007-2024 ICM, Uniwersytet Warszawski", {a: "end", c: NAVY, s: 12});

// legend leader lines
L([[68,15],[137,15],[157,43]], "#000");
L([[100,43],[118,43],[143,78]], "#b22222");
L([[91,77],[117,77]], "#ff0000"); L([[131,77],[136,77],[157,100]], "#ff0000");
L([[68,99],[136,99]], "#1414e6");
L([[95,120],[135,120],[140,113]], "#6a5ad8");
L([[101,137],[146,137],[146,147]], "#ff0000");
L([[104,150],[111,150]], RHC); L([[129,150],[140,157]], RHC);
L([[92,166],[111,166]], "#000"); L([[128,166],[134,168],[139,172]], "#000");
L([[71,178],[146,178]], "#009a00");
L([[79,190],[160,190]], "#009a00");
L([[68,201],[111,201]], "#1a1ae0"); L([[128,202],[136,202],[160,172]], "#1a1ae0");
L([[79,213],[135,213],[163,174]], "#1a1ae0");
L([[95,225],[146,225],[146,220]], "#ff0000");
L([[52,264],[135,262]], "#000");
L([[111,334],[118,334]], "#ff0000"); L([[128,334],[132,332],[138,317]], "#ff0000");
L([[105,348],[130,348],[145,341]], "#ff0000");
L([[90,369],[135,368]], "#000099");
L([[84,409],[140,409]], "#000099");
L([[98,429],[135,429],[182,447]], "#a52a2a");
L([[57,468],[135,468],[192,456]], "#000");
L([[57,479],[143,479],[143,476]], "#555");
L([[57,491],[134,491],[140,497]], "#a0a0a0");
L([[57,501],[134,501],[140,505]], "#d0d0d0");
L([[57,511],[140,511]], "#78c8f4"); L([[57,513],[140,513]], "#78c8f4");
L([[65,527],[128,527],[136,514]], "#ff9900"); L([[136,514],[175,464]], "#ff9900", 0.8);
L([[53,555],[175,555]], "#78c8f4"); L([[53,557],[175,557]], "#78c8f4");
L([[47,569],[190,561]], "#a8a8a8");
L([[39,581],[122,581]], "#303030");
L([[73,594],[135,594],[150,591]], "#303030");
L([[29,605],[218,605],[218,592]], "#ffb000");
L([[138,622],[148,622],[157,611]], "#000");

// legend labels
const RED = "#ff0000", GRN = "#009a00", BLU = "#1a1ae0";
T(6, 14, "Czas lokalny"); T(6, 26, "(CET/CEST)");
T(6, 41, "Temperatura gruntu", {c: "#b22222"}); T(27, 52, "max/min", {c: "#b22222"});
T(6, 64, "Temperatura:");
T(13, 77, "punkt środkowy", {c: RED}); T(27, 88, "max/min", {c: "#f5c0b8"});
T(10, 99, "odczuwana", {c: "#1414e6"}); T(27, 110, "max/min", {c: "#a8d8f8"});
T(6, 121, "Temp. punktu rosy", {c: "#6a5ad8"});
T(6, 137, "Opad powyżej skali", {c: RED});
T(6, 150, "Wilgotność względna", {c: RHC});
T(6, 166, "Wystąpienie burzy");
T(6, 179, "Deszcz:", {c: GRN}); T(49, 179, "max", {c: GRN}); T(49, 190, "średni", {c: GRN});
T(6, 201, "Śnieg:", {c: BLU}); T(49, 201, "max", {c: BLU}); T(49, 212, "średni", {c: BLU});
T(6, 225, "Wystąpienie opadu", {c: RED}); T(6, 237, "konwekcyjnego", {c: RED});
T(6, 263, "Ciśnienie"); T(6, 276, "zredukowane"); T(6, 289, "do poziomu morza");
T(6, 318, "Wiatr na 10m:");
T(10, 334, "poryw powyżej skali", {c: RED}); T(10, 348, "max porywy wiatru", {c: RED});
T(10, 369, "prędkość wiatru", {c: "#000099"}); T(10, 381, "w środku obszaru", {c: "#000099"});
T(10, 409, "kierunek wiatru", {c: "#000099"});
T(6, 429, "Wierzchołek chmur", {c: "#a52a2a"});
T(6, 445, "Podstawa chmur*"); T(6, 456, "o pokryciu");
T(10, 468, "> 7.9 okt."); T(10, 479, "> 6.5 okt.", {c: "#555"});
T(10, 490, "> 4.5 okt.", {c: "#a0a0a0"}); T(10, 501, "> 2.5 okt.", {c: "#d4d4d4"});
T(10, 512, "> 0.1 okt.", {c: "#fff", bg: "#7cc8f4", bgw: 47});
T(6, 526, "Widzialność", {c: "#ff9900"});
T(6, 542, "Chmury:");
T(10, 556, "wysokie", {c: "#fff", bg: "#7cc8f4", bgw: 43});
T(10, 569, "średnie", {c: "#a8a8a8"}); T(10, 581, "niskie", {c: "#505050"}); T(10, 593, "bardzo niskie", {c: "#303030"});
T(6, 605, "Mgła", {c: "#ffb000"});
T(6, 622, "Czas uniwersalny (UTC)", {s: 12});
T(4, 648, "* powyżej poziomu morza", {s: 9.5, w: "bold"});
root.appendChild(ov.node());
</script></body></html>
